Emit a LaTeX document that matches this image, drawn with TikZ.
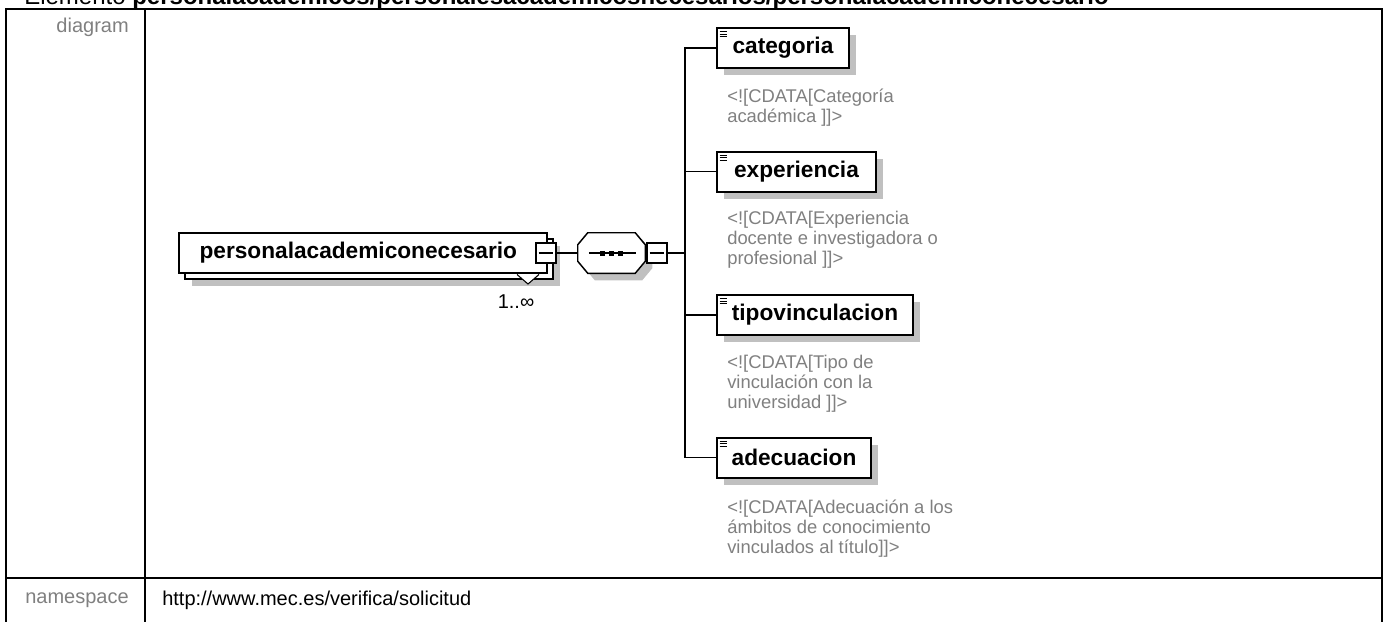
\documentclass[tikz,border=0pt]{standalone}
\usepackage{fontspec}
\setmainfont{Liberation Sans}
\usetikzlibrary{positioning, shadows, calc}
\definecolor{XSGray}{RGB}{128,128,128}
\definecolor{XSShadow}{RGB}{192,192,192}
\begin{document}
\begin{tikzpicture}[x=0.75pt, y=-0.75pt,
  elem/.style={draw, line width=1.5pt, fill=white, minimum height=30pt, inner sep=0pt,
               font=\fontsize{17}{20}\selectfont\bfseries},
  shadowed/.style={drop shadow={shadow xshift=5.25pt, shadow yshift=-5.25pt,
                   fill=XSShadow, opacity=1}},
  leaf/.style={elem, anchor=west, shadowed,
               path picture={\draw[line width=0.75pt]
                 ([shift={(2.5,3.5)}]path picture bounding box.north west) -- +(7,0)
                 ([shift={(2.5,6)}]path picture bounding box.north west) -- +(7,0)
                 ([shift={(2.5,8.5)}]path picture bounding box.north west) -- +(7,0);}},
  minusbox/.style={draw, line width=1.1pt, fill=white, minimum size=15pt, inner sep=0pt},
  seqbox/.style={minimum width=50.25pt, minimum height=30pt, inner sep=0pt},
  conn/.style={line width=1.2pt},
  note/.style={anchor=north west, align=left, inner sep=0pt, text=XSGray,
               font=\fontsize{13.8}{15}\selectfont},
  lbl/.style={anchor=east, inner sep=0pt, text=XSGray, font=\fontsize{15}{18}\selectfont},
  tableline/.style={line width=1.5pt},
]
\useasboundingbox (0,0) rectangle (1384,621);
%% Table frame
\node[anchor=base west, inner sep=0pt, font=\fontsize{18}{20}\selectfont] (title) at (24,4)
  {Elemento \textbf{personalacademicos/personalesacademicosnecesarios/personalacademiconecesario}};
\draw[tableline] (6,640) -- (6,9) -- (1382,9) -- (1382,640);
\draw[tableline] (145,9) -- (145,640);
\draw[tableline] (6,578) -- (1382,578);
\node[lbl] (diaglbl) at (129,27) {diagram};
\node[lbl] (nslbl) at (129,600) {namespace};
\node[anchor=west, inner sep=0pt, font=\fontsize{15}{18}\selectfont] (nsval) at (162,600)
  {http://www.mec.es/verifica/solicitud};
%% Main element (stacked, 1..oo)
\node[elem, minimum width=276pt, shadowed] (elemback) at (369,259) {};
\node[elem, minimum width=276pt] (elem) at (363,253) {personalacademiconecesario\kern7pt};
\node[minusbox] (m1) at (546,253) {};
\draw[line width=1pt] ([xshift=2.5pt]m1.west) -- ([xshift=-2.5pt]m1.east);
\filldraw[fill=white, line width=0.8pt] (517,274.5) -- (528,284) -- (539,274.5);
\node[inner sep=0pt, font=\fontsize{15}{18}\selectfont] (mult) at (516,302) {1..∞};
%% Sequence compositor
\node[seqbox] (seq) at (611.5,253) {};
\filldraw[fill=white, line width=1.1pt, shadowed]
  ([xshift=7.5pt]seq.north west) -- ([xshift=-7.5pt]seq.north east)
  -- ([yshift=-9pt]seq.north east) -- ([yshift=9pt]seq.south east)
  -- ([xshift=-7.5pt]seq.south east) -- ([xshift=7.5pt]seq.south west)
  -- ([yshift=9pt]seq.south west) -- ([yshift=-9pt]seq.north west) -- cycle;
\draw[line width=1pt] ([xshift=-17pt]seq.center) -- ([xshift=18pt]seq.center);
\fill ([shift={(-11.5,-2.5)}]seq.center) rectangle +(5,5);
\fill ([shift={(-2.5,-2.5)}]seq.center) rectangle +(5,5);
\fill ([shift={(6.5,-2.5)}]seq.center) rectangle +(5,5);
\node[minusbox] (m2) at (657,253) {};
\draw[line width=1pt] ([xshift=2.5pt]m2.west) -- ([xshift=-2.5pt]m2.east);
\draw[conn] (m1.east) -- (seq.west);
%% Child elements
\node[leaf, minimum width=99pt] (cat) at (716,48) {categoria};
\node[leaf, minimum width=119.25pt] (exp) at (716,171.5) {experiencia};
\node[leaf, minimum width=147pt] (tip) at (716,315) {tipovinculacion};
\node[leaf, minimum width=115.5pt] (ade) at (716,457.5) {adecuacion};
\node[note] (catnote) at ([shift={(11,20)}]cat.south west)
  {<![CDATA[Categoría\\académica ]]>};
\node[note] (expnote) at ([shift={(11,18)}]exp.south west)
  {<![CDATA[Experiencia\\docente e investigadora o\\profesional ]]>};
\node[note] (tipnote) at ([shift={(11,19)}]tip.south west)
  {<![CDATA[Tipo de\\vinculación con la\\universidad ]]>};
\node[note] (adenote) at ([shift={(11,21)}]ade.south west)
  {<![CDATA[Adecuación a los\\ámbitos de conocimiento\\vinculados al título]]>};
%% Bus
\coordinate (busx) at (685,0);
\draw[conn] (m2.east) -- (m2.east -| busx);
\draw[conn] (cat.west) -- (cat.west -| busx) -- (ade.west -| busx) -- (ade.west);
\draw[conn] (exp.west) -- (exp.west -| busx);
\draw[conn] (tip.west) -- (tip.west -| busx);
\end{tikzpicture}
\end{document}
